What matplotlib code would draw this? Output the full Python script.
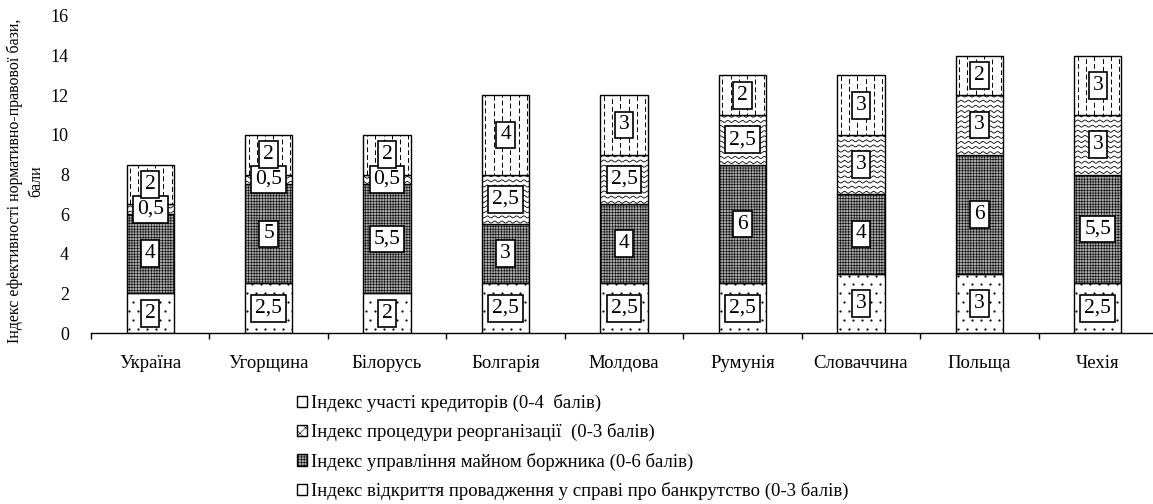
import numpy as np
import matplotlib
matplotlib.use('Agg')
import matplotlib.pyplot as plt
from matplotlib.patches import Patch

# Дані, зчитані з діаграми
countries = ['Україна', 'Угорщина', 'Білорусь', 'Болгарія', 'Молдова',
             'Румунія', 'Словаччина', 'Польща', 'Чехія']
opening = [2, 2.5, 2, 2.5, 2.5, 2.5, 3, 3, 2.5]
property_mgmt = [4, 5, 5.5, 3, 4, 6, 4, 6, 5.5]
reorganization = [0.5, 0.5, 0.5, 2.5, 2.5, 2.5, 3, 3, 3]
creditors = [2, 2, 2, 4, 3, 2, 3, 2, 3]

series_labels = [
    'Індекс відкриття провадження у справі про банкрутство (0-3 балів)',
    'Індекс управління майном боржника (0-6 балів)',
    'Індекс процедури реорганізації  (0-3 балів)',
    'Індекс участі кредиторів (0-4  балів)',
]
y_label = 'Індекс ефективності нормативно-правової бази,\nбали'

plt.rcParams['font.family'] = ['Liberation Serif', 'DejaVu Serif']
plt.rcParams['hatch.linewidth'] = 0.4


def fmt(v):
    """Число з комою як десятковим роздільником"""
    return ('%g' % v).replace('.', ',')


def draw_dots(ax, bar):
    """Дрібні крапки (візерунок відкриття провадження)"""
    x0, y0 = bar.get_x(), bar.get_y()
    w, h = bar.get_width(), bar.get_height()
    px, py = [], []
    for j, yy in enumerate(np.arange(y0 + 0.2, y0 + h, 0.45)):
        shift = 0.0 if j % 2 == 0 else 0.038
        for xx in np.arange(x0 + 0.02 + shift, x0 + w, 0.076):
            px.append(xx)
            py.append(yy)
    sc = ax.scatter(px, py, s=2.5, color='black', linewidths=0)
    sc.set_clip_path(bar)


def draw_waves(ax, bar):
    """Хвилясті лінії всередині стовпця (візерунок реорганізації)"""
    x0, y0 = bar.get_x(), bar.get_y()
    w, h = bar.get_width(), bar.get_height()
    xs = np.linspace(x0, x0 + w, 200)
    for yy in np.arange(y0 + 0.1, y0 + h, 0.26):
        line, = ax.plot(xs, yy + 0.05 * np.sin(xs / w * 2 * np.pi * 6.5),
                        color='black', lw=0.6)
        line.set_clip_path(bar)


def draw_dashes(ax, bar):
    """Вертикальні штрихи (візерунок участі кредиторів)"""
    x0, y0 = bar.get_x(), bar.get_y()
    w, h = bar.get_width(), bar.get_height()
    for i, xx in enumerate(np.arange(x0 + 0.03, x0 + w, 0.07)):
        off = 0 if i % 2 == 0 else 3
        line, = ax.plot([xx, xx], [y0, y0 + h], color='black', lw=0.7,
                        linestyle=(off, (5, 3)))
        line.set_clip_path(bar)


def main():
    fig = plt.figure(figsize=(11.53, 5.04), dpi=100)
    ax = fig.add_axes([91 / 1153, 171 / 504, 1066 / 1153, 317 / 504])

    x = np.arange(len(countries))
    width = 0.4
    bottom = np.zeros(len(countries))

    b1 = ax.bar(x, opening, width, bottom=bottom, facecolor='white',
                edgecolor='black', lw=1)
    bottom += opening
    b2 = ax.bar(x, property_mgmt, width, bottom=bottom, facecolor='#a8a8a8',
                edgecolor='black', lw=1, hatch='++++++')
    bottom += property_mgmt
    b3 = ax.bar(x, reorganization, width, bottom=bottom, facecolor='white',
                edgecolor='black', lw=1)
    bottom += reorganization
    b4 = ax.bar(x, creditors, width, bottom=bottom, facecolor='white',
                edgecolor='black', lw=1)

    for bar in b1:
        draw_dots(ax, bar)
    for bar in b3:
        draw_waves(ax, bar)
    for bar in b4:
        draw_dashes(ax, bar)

    # Підписи значень у білих рамках
    for cont, vals in [(b1, opening), (b2, property_mgmt),
                       (b3, reorganization), (b4, creditors)]:
        for bar, v in zip(cont, vals):
            ax.text(bar.get_x() + bar.get_width() / 2,
                    bar.get_y() + bar.get_height() / 2, fmt(v),
                    ha='center', va='center', fontsize=15.5, zorder=5,
                    bbox=dict(boxstyle='square,pad=0.18', facecolor='white',
                              edgecolor='black', lw=1.2))

    ax.set_xlim(-0.5, len(countries) - 0.5)
    ax.set_ylim(0, 16)
    ax.set_yticks(np.arange(0, 17, 2))
    ax.tick_params(axis='y', length=0, pad=16, labelsize=13)

    ax.set_xticks(np.arange(-0.5, len(countries), 1))
    ax.set_xticklabels([])
    ax.set_xticks(x, minor=True)
    ax.set_xticklabels(countries, minor=True)
    ax.tick_params(axis='x', which='major', length=4, direction='out', width=1)
    ax.tick_params(axis='x', which='minor', length=0, pad=16, labelsize=13.5)

    for side in ['top', 'right', 'left']:
        ax.spines[side].set_visible(False)
    ax.spines['bottom'].set_linewidth(1)

    ax.set_ylabel(y_label, fontsize=11.5, linespacing=1.4)
    ax.yaxis.set_label_coords(-0.044, 0.48)

    handles = [
        Patch(facecolor='white', edgecolor='black', hatch='|'),
        Patch(facecolor='white', edgecolor='black', hatch='xxx'),
        Patch(facecolor='#a8a8a8', edgecolor='black', hatch='++++++'),
        Patch(facecolor='white', edgecolor='black', hatch='.'),
    ]
    fig.legend(handles, series_labels[::-1], loc='upper left',
               bbox_to_anchor=(297 / 1153, 1 - 394 / 504), frameon=False,
               fontsize=13.5, handlelength=0.55, handleheight=0.55,
               handletextpad=0.2, labelspacing=0.6, borderpad=0,
               borderaxespad=0)

    fig.savefig('out.png', dpi=100)
    plt.close(fig)


if __name__ == "__main__":
    main()
